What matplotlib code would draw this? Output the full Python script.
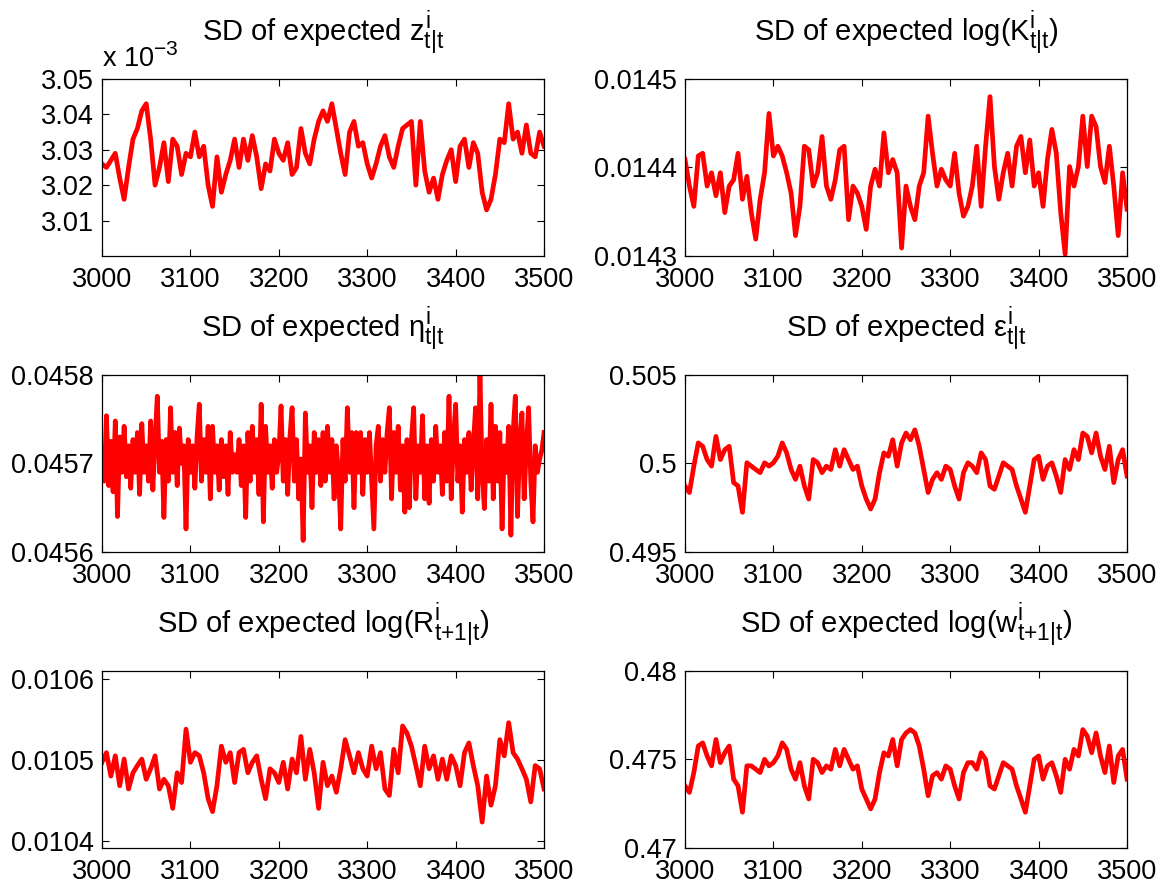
#!/usr/bin/env python3
"""
SD of expected states/prices over t = 3000..3500 (6 panels, MATLAB look).
"""

import numpy as np
import matplotlib
matplotlib.use("Agg")
import matplotlib.pyplot as plt
from matplotlib.ticker import FuncFormatter
import matplotlib._mathtext as mathtext_impl

plt.rcParams['font.family'] = ['Liberation Sans', 'DejaVu Sans']
plt.rcParams['mathtext.fontset'] = 'custom'
plt.rcParams['mathtext.rm'] = 'Liberation Sans'
plt.rcParams['mathtext.it'] = 'Liberation Sans'
plt.rcParams['mathtext.bf'] = 'Liberation Sans:bold'

# MATLAB's tex interpreter draws scripts a bit bigger than mathtext does
if hasattr(mathtext_impl, 'SHRINK_FACTOR'):
    mathtext_impl.SHRINK_FACTOR = 0.78

# ---- data ----
t_coarse = np.arange(3000, 3501, 5)     # 101 readings
t_fine = np.arange(3000, 3500.1, 2.5)   # 201 readings for the noisy eta panel

# panel 1, in units of 1e-3
z_sd_e3 = [
    3.026, 3.025, 3.027, 3.029, 3.022, 3.016, 3.025, 3.033, 3.036, 3.041,
    3.043, 3.033, 3.020, 3.025, 3.032, 3.021, 3.033, 3.031, 3.023, 3.029,
    3.028, 3.035, 3.028, 3.031, 3.020, 3.014, 3.028, 3.018, 3.023, 3.027,
    3.033, 3.025, 3.033, 3.027, 3.034, 3.028, 3.019, 3.026, 3.024, 3.033,
    3.029, 3.027, 3.032, 3.023, 3.025, 3.036, 3.029, 3.026, 3.033, 3.038,
    3.041, 3.038, 3.043, 3.036, 3.029, 3.023, 3.035, 3.038, 3.031, 3.032,
    3.026, 3.022, 3.026, 3.031, 3.034, 3.028, 3.025, 3.031, 3.036, 3.037,
    3.038, 3.020, 3.038, 3.024, 3.018, 3.022, 3.016, 3.023, 3.027, 3.030,
    3.021, 3.031, 3.033, 3.025, 3.032, 3.029, 3.018, 3.013, 3.016, 3.023,
    3.033, 3.032, 3.043, 3.033, 3.035, 3.029, 3.037, 3.029, 3.028, 3.035,
    3.031,
]

logK_sd = [
    0.014409, 0.014379, 0.014356, 0.014413, 0.014416, 0.014379, 0.014394, 0.014368, 0.014394, 0.014349,
    0.014379, 0.014386, 0.014416, 0.014364, 0.014390, 0.014349, 0.014319, 0.014364, 0.014394, 0.014461,
    0.014413, 0.014424, 0.014413, 0.014394, 0.014371, 0.014323, 0.014356, 0.014424, 0.014420, 0.014379,
    0.014394, 0.014435, 0.014379, 0.014364, 0.014386, 0.014420, 0.014424, 0.014341, 0.014379, 0.014371,
    0.014356, 0.014330, 0.014379, 0.014398, 0.014379, 0.014439, 0.014394, 0.014409, 0.014394, 0.014309,
    0.014379, 0.014356, 0.014341, 0.014379, 0.014394, 0.014458, 0.014416, 0.014379, 0.014398, 0.014386,
    0.014379, 0.014416, 0.014371, 0.014345, 0.014356, 0.014379, 0.014424, 0.014356, 0.014424, 0.014480,
    0.014401, 0.014364, 0.014394, 0.014416, 0.014379, 0.014424, 0.014435, 0.014394, 0.014431, 0.014379,
    0.014394, 0.014356, 0.014409, 0.014443, 0.014416, 0.014349, 0.014302, 0.014401, 0.014379, 0.014401,
    0.014458, 0.014401, 0.014458, 0.014446, 0.014401, 0.014383, 0.014424, 0.014379, 0.014323, 0.014394,
    0.014353,
]

eta_sd = [
    0.045715, 0.045680, 0.045754, 0.045675, 0.045725, 0.045668, 0.045748, 0.045640, 0.045730, 0.045690,
    0.045742, 0.045685, 0.045720, 0.045672, 0.045727, 0.045690, 0.045735, 0.045665, 0.045745, 0.045690,
    0.045720, 0.045680, 0.045748, 0.045670, 0.045727, 0.045776, 0.045690, 0.045725, 0.045639, 0.045727,
    0.045680, 0.045763, 0.045690, 0.045735, 0.045675, 0.045740, 0.045700, 0.045720, 0.045626, 0.045727,
    0.045690, 0.045720, 0.045672, 0.045730, 0.045767, 0.045680, 0.045727, 0.045690, 0.045742, 0.045660,
    0.045742, 0.045690, 0.045720, 0.045670, 0.045727, 0.045685, 0.045720, 0.045665, 0.045735, 0.045690,
    0.045710, 0.045690, 0.045727, 0.045675, 0.045720, 0.045639, 0.045735, 0.045680, 0.045742, 0.045690,
    0.045727, 0.045665, 0.045767, 0.045634, 0.045742, 0.045690, 0.045720, 0.045672, 0.045727, 0.045690,
    0.045710, 0.045765, 0.045680, 0.045727, 0.045665, 0.045730, 0.045763, 0.045680, 0.045727, 0.045660,
    0.045705, 0.045613, 0.045757, 0.045690, 0.045720, 0.045650, 0.045735, 0.045690, 0.045727, 0.045675,
    0.045735, 0.045680, 0.045742, 0.045690, 0.045727, 0.045660, 0.045720, 0.045690, 0.045626, 0.045727,
    0.045680, 0.045763, 0.045690, 0.045735, 0.045650, 0.045735, 0.045690, 0.045735, 0.045665, 0.045727,
    0.045690, 0.045735, 0.045680, 0.045626, 0.045720, 0.045742, 0.045680, 0.045727, 0.045690, 0.045735,
    0.045763, 0.045660, 0.045735, 0.045690, 0.045742, 0.045670, 0.045720, 0.045645, 0.045727, 0.045650,
    0.045727, 0.045763, 0.045660, 0.045720, 0.045690, 0.045754, 0.045660, 0.045720, 0.045655, 0.045727,
    0.045680, 0.045742, 0.045690, 0.045720, 0.045665, 0.045735, 0.045680, 0.045776, 0.045660, 0.045727,
    0.045767, 0.045680, 0.045720, 0.045645, 0.045727, 0.045690, 0.045735, 0.045670, 0.045720, 0.045763,
    0.045660, 0.045800, 0.045690, 0.045649, 0.045727, 0.045680, 0.045767, 0.045660, 0.045742, 0.045680,
    0.045735, 0.045626, 0.045720, 0.045690, 0.045742, 0.045619, 0.045735, 0.045776, 0.045640, 0.045727,
    0.045757, 0.045660, 0.045720, 0.045763, 0.045680, 0.045634, 0.045720, 0.045690, 0.045705, 0.045715,
    0.045735,
]

eps_sd = [
    0.49873, 0.49836, 0.49985, 0.50116, 0.50097, 0.50022, 0.49985, 0.50153, 0.50022, 0.50078,
    0.50097, 0.49892, 0.49873, 0.49724, 0.50004, 0.49985, 0.49966, 0.49948, 0.50004, 0.49985,
    0.50004, 0.50041, 0.50116, 0.50060, 0.49966, 0.49910, 0.49985, 0.49873, 0.49799, 0.50022,
    0.50004, 0.49948, 0.49985, 0.49966, 0.50078, 0.49985, 0.50078, 0.50022, 0.49966, 0.49985,
    0.49873, 0.49799, 0.49743, 0.49799, 0.49948, 0.50060, 0.50041, 0.50134, 0.49985, 0.50116,
    0.50172, 0.50134, 0.50190, 0.50097, 0.49966, 0.49836, 0.49910, 0.49948, 0.49910, 0.49985,
    0.49966, 0.49873, 0.49799, 0.49948, 0.50004, 0.49985, 0.49948, 0.50060, 0.50022, 0.49873,
    0.49854, 0.49929, 0.50004, 0.49985, 0.49966, 0.49873, 0.49799, 0.49724, 0.49873, 0.50022,
    0.50041, 0.49910, 0.49985, 0.50004, 0.49929, 0.49836, 0.50022, 0.49966, 0.50078, 0.50022,
    0.50172, 0.50153, 0.50060, 0.50172, 0.50041, 0.49966, 0.50097, 0.49892, 0.50022, 0.50078,
    0.49929,
]

logR_sd = [
    0.010497, 0.010509, 0.010480, 0.010505, 0.010468, 0.010501, 0.010464, 0.010484, 0.010493, 0.010501,
    0.010476, 0.010489, 0.010505, 0.010464, 0.010476, 0.010468, 0.010440, 0.010484, 0.010472, 0.010538,
    0.010497, 0.010509, 0.010505, 0.010484, 0.010452, 0.010436, 0.010468, 0.010517, 0.010497, 0.010509,
    0.010472, 0.010509, 0.010513, 0.010484, 0.010497, 0.010505, 0.010476, 0.010452, 0.010489, 0.010484,
    0.010472, 0.010497, 0.010464, 0.010501, 0.010484, 0.010529, 0.010476, 0.010513, 0.010484, 0.010440,
    0.010497, 0.010468, 0.010480, 0.010460, 0.010489, 0.010525, 0.010505, 0.010484, 0.010509, 0.010489,
    0.010480, 0.010517, 0.010489, 0.010509, 0.010464, 0.010456, 0.010513, 0.010484, 0.010542, 0.010533,
    0.010517, 0.010493, 0.010468, 0.010517, 0.010489, 0.010505, 0.010476, 0.010501, 0.010476, 0.010505,
    0.010493, 0.010468, 0.010509, 0.010521, 0.010493, 0.010468, 0.010423, 0.010480, 0.010444, 0.010468,
    0.010525, 0.010505, 0.010546, 0.010509, 0.010501, 0.010489, 0.010476, 0.010448, 0.010493, 0.010489,
    0.010464,
]

logw_sd = [
    0.47351, 0.47314, 0.47426, 0.47576, 0.47594, 0.47520, 0.47464, 0.47613, 0.47482, 0.47538,
    0.47576, 0.47389, 0.47351, 0.47202, 0.47464, 0.47464, 0.47445, 0.47426, 0.47501, 0.47464,
    0.47482, 0.47520, 0.47594, 0.47557, 0.47445, 0.47389, 0.47482, 0.47351, 0.47277, 0.47501,
    0.47482, 0.47426, 0.47464, 0.47445, 0.47557, 0.47464, 0.47557, 0.47501, 0.47445, 0.47464,
    0.47333, 0.47277, 0.47221, 0.47277, 0.47426, 0.47538, 0.47520, 0.47613, 0.47464, 0.47613,
    0.47650, 0.47669, 0.47650, 0.47576, 0.47445, 0.47295, 0.47408, 0.47426, 0.47389, 0.47464,
    0.47445, 0.47351, 0.47277, 0.47426, 0.47482, 0.47482, 0.47445, 0.47538, 0.47501, 0.47351,
    0.47333, 0.47408, 0.47482, 0.47464, 0.47445, 0.47351, 0.47277, 0.47202, 0.47351, 0.47501,
    0.47520, 0.47389, 0.47464, 0.47482, 0.47408, 0.47314, 0.47501, 0.47445, 0.47557, 0.47520,
    0.47669, 0.47632, 0.47538, 0.47650, 0.47520, 0.47426, 0.47576, 0.47370, 0.47520, 0.47557,
    0.47389,
]

titles = [
    r'SD of expected $z^{i}_{t|t}$',
    r'SD of expected log(K$^{i}_{t|t}$)',
    r'SD of expected $η^{i}_{t|t}$',
    r'SD of expected $ε^{i}_{t|t}$',
    r'SD of expected log(R$^{i}_{t{+}1|t}$)',
    r'SD of expected log(w$^{i}_{t{+}1|t}$)',
]
y_limits = [(3.0, 3.05), (0.0143, 0.0145), (0.0456, 0.0458),
            (0.495, 0.505), (0.010391, 0.01061), (0.47, 0.48)]
y_ticks = [[3.01, 3.02, 3.03, 3.04, 3.05],
           [0.0143, 0.0144, 0.0145],
           [0.0456, 0.0457, 0.0458],
           [0.495, 0.5, 0.505],
           [0.0104, 0.0105, 0.0106],
           [0.47, 0.475, 0.48]]
x_ticks = [3000, 3100, 3200, 3300, 3400, 3500]


def style_axis(ax, ylim, yticks):
    ax.set_xlim(3000, 3500)
    ax.set_ylim(*ylim)
    ax.set_xticks(x_ticks)
    ax.set_yticks(yticks)
    ax.yaxis.set_major_formatter(FuncFormatter(lambda v, p: '%g' % v))
    ax.tick_params(direction='in', length=5, width=0.8, top=True, right=True,
                   labelsize=19.5)
    ax.tick_params(axis='x', pad=8)
    ax.tick_params(axis='y', pad=6)
    for s in ax.spines.values():
        s.set_linewidth(0.9)


def main():
    fig = plt.figure(figsize=(11.62, 8.90), dpi=100)

    lefts = [0.0878, 0.5895]
    bottoms = [0.7124, 0.3798, 0.0472]
    w, h = 0.3804, 0.1989

    series = [(t_coarse, z_sd_e3), (t_coarse, logK_sd), (t_fine, eta_sd),
              (t_coarse, eps_sd), (t_coarse, logR_sd), (t_coarse, logw_sd)]

    for k, (tt, yy) in enumerate(series):
        ax = fig.add_axes([lefts[k % 2], bottoms[k // 2], w, h])
        ax.plot(tt, yy, color='red', linewidth=3.4)
        style_axis(ax, y_limits[k], y_ticks[k])
        ax.set_title(titles[k], fontsize=21, pad=27)
        if k == 0:
            # MATLAB style exponent above the y axis
            ax.text(0, 1.068, r'x 10$^{-3}$', transform=ax.transAxes,
                    fontsize=19.5, va='baseline', ha='left')

    fig.savefig('out.png', dpi=100)
    plt.close(fig)


if __name__ == "__main__":
    main()
